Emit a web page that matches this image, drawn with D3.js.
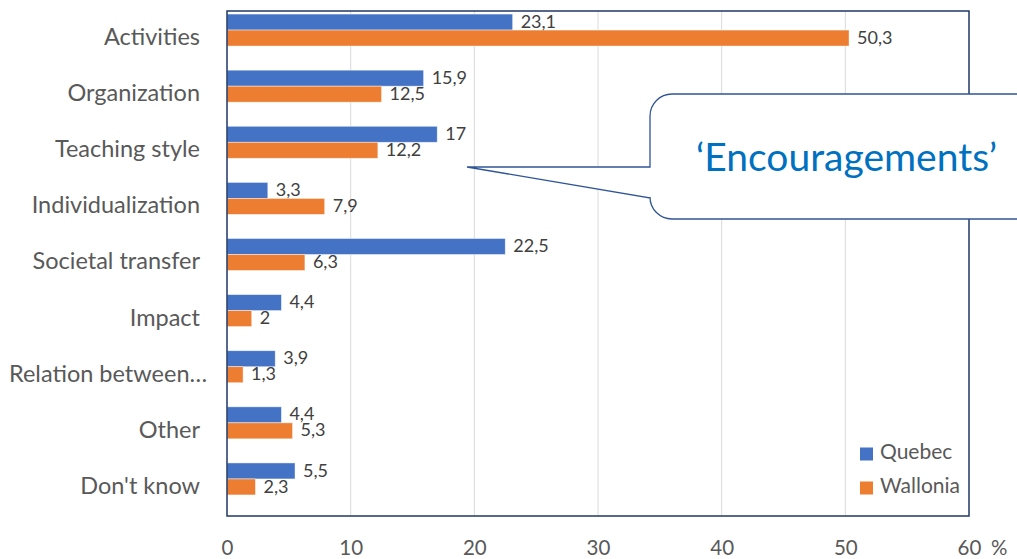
<!DOCTYPE html>
<html>
<head>
<meta charset="utf-8">
<script src="https://cdn.jsdelivr.net/npm/d3@7"></script>
<style>
  html, body { margin: 0; padding: 0; background: #fff; }
  svg { display: block; font-family: Lato, "Open Sans", sans-serif; }
</style>
</head>
<body>
<svg id="chart" width="1017" height="559"></svg>
<script>
// Reasons reported, share of answers (%)
const categories = ["Activities", "Organization", "Teaching style", "Individualization",
  "Societal transfer", "Impact", "Relation between…", "Other", "Don't know"];
const quebec   = [23.1, 15.9, 17, 3.3, 22.5, 4.4, 3.9, 4.4, 5.5];
const wallonia = [50.3, 12.5, 12.2, 7.9, 6.3, 2, 1.3, 5.3, 2.3];
const seriesNames = ["Quebec", "Wallonia"];
const xTicks = [0, 10, 20, 30, 40, 50, 60];
const calloutText = "‘Encouragements’";

const colors = ["#4472C4", "#ED7D31"];
const svg = d3.select("#chart");

const plot = { left: 227, right: 969, top: 11, bottom: 516 };

const x = d3.scaleLinear().domain([0, 60]).range([plot.left, plot.right]);
const y = d3.scaleBand().domain(categories).range([plot.top, plot.bottom]);
const barH = 16, barShift = -9;   // bar pair sits slightly above the row centre
const ySub = d3.scaleBand().domain(seriesNames).range([0, barH * 2]);
const rowTop = c => y(c) + y.bandwidth() / 2 + barShift - barH;

// gridlines
svg.append("g")
  .selectAll("line")
  .data(xTicks.slice(1, -1))
  .join("line")
  .attr("x1", d => x(d)).attr("x2", d => x(d))
  .attr("y1", plot.top).attr("y2", plot.bottom)
  .attr("stroke", "#d9d9d9").attr("stroke-width", 1);

// bars
const rows = categories.map((c, i) => ({ c, vals: [quebec[i], wallonia[i]] }));
const groups = svg.append("g").selectAll("g")
  .data(rows).join("g")
  .attr("transform", d => `translate(0,${rowTop(d.c)})`);

groups.selectAll("rect")
  .data(d => d.vals.map((v, k) => ({ v, k })))
  .join("rect")
  .attr("x", x(0))
  .attr("y", d => ySub(seriesNames[d.k]))
  .attr("width", d => x(d.v) - x(0))
  .attr("height", ySub.bandwidth())
  .attr("fill", d => colors[d.k])
  .attr("stroke", "#ffffff").attr("stroke-opacity", 0.6).attr("stroke-width", 0.75);

const fmt = v => String(v).replace(".", ",");
groups.selectAll("text")
  .data(d => d.vals.map((v, k) => ({ v, k })))
  .join("text")
  .attr("x", d => x(d.v) + 8)
  .attr("y", d => ySub(seriesNames[d.k]) + ySub.bandwidth() / 2 + 1)
  .attr("dominant-baseline", "middle")
  .attr("font-size", 18)
  .attr("fill", "#404040")
  .text(d => fmt(d.v));

// category axis labels
svg.append("g").selectAll("text")
  .data(categories).join("text")
  .attr("y", d => y(d) + y.bandwidth() / 2)
  .attr("dominant-baseline", "middle")
  .attr("font-size", 23.5)
  .attr("fill", "#595959")
  .text(d => d)
  .each(function () {
    const w = this.getComputedTextLength();
    const t = d3.select(this);
    if (w > 192) t.attr("x", 9).attr("text-anchor", "start");
    else t.attr("x", 200).attr("text-anchor", "end");
  });

// value axis
const xAxis = d3.axisBottom(x).tickValues(xTicks).tickSize(0).tickPadding(0);
const ax = svg.append("g").attr("transform", `translate(0,${plot.bottom})`).call(xAxis);
ax.select(".domain").remove();
ax.selectAll("text")
  .attr("y", 32)
  .attr("dy", "0.32em")
  .attr("font-size", 20.5)
  .attr("font-family", "Lato, 'Open Sans', sans-serif")
  .attr("fill", "#595959");
svg.append("text")
  .attr("x", x(60) + 22).attr("y", plot.bottom + 32)
  .attr("dy", "0.32em")
  .attr("font-size", 20.5).attr("fill", "#595959")
  .text("%");

// plot frame
svg.append("rect")
  .attr("x", plot.left).attr("y", plot.top)
  .attr("width", plot.right - plot.left).attr("height", plot.bottom - plot.top)
  .attr("fill", "none").attr("stroke", "#203864").attr("stroke-width", 1.5);

// legend
const legend = svg.append("g");
seriesNames.forEach((s, k) => {
  const ly = 454 + k * 34;
  legend.append("rect")
    .attr("x", 860).attr("y", ly - 6.5).attr("width", 13).attr("height", 13)
    .attr("fill", colors[k]);
  legend.append("text")
    .attr("x", 880).attr("y", ly)
    .attr("dominant-baseline", "middle")
    .attr("font-size", 21).attr("fill", "#595959")
    .text(s);
});

// callout pointing at the Teaching style row
const cL = 650, cT = 94, cB = 219, r = 22, cR = 1030;
const tip = [467, 167], j1 = 167, j2 = 198;
const p = d3.path();
p.moveTo(cL + r, cT);
p.lineTo(cR, cT);
p.lineTo(cR, cB);
p.lineTo(cL + r, cB);
p.arcTo(cL, cB, cL, cB - r, r);
p.lineTo(cL, j2);
p.lineTo(tip[0], tip[1]);
p.lineTo(cL, j1);
p.lineTo(cL, cT + r);
p.arcTo(cL, cT, cL + r, cT, r);
p.closePath();
svg.append("path")
  .attr("d", p.toString())
  .attr("fill", "#ffffff")
  .attr("stroke", "#2F5597").attr("stroke-width", 1.3);
svg.append("text")
  .attr("x", 696).attr("y", 161)
  .attr("dominant-baseline", "middle")
  .attr("font-size", 39).attr("fill", "#0070C0")
  .text(calloutText);
</script>
</body>
</html>
